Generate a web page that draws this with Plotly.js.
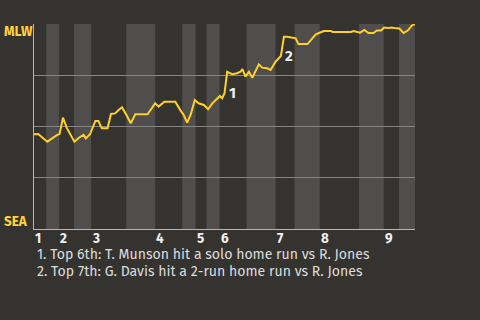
<!DOCTYPE html>
<html>
<head>
<meta charset="utf-8">
<script src="https://cdn.plot.ly/plotly-3.0.1.min.js"></script>
<style>
  html, body { margin: 0; padding: 0; background: #353330; }
  #chart { width: 480px; height: 320px; }
</style>
</head>
<body>
<div id="chart"></div>
<script>
// Game progress (0-100) and Milwaukee win probability (%) after each event
const progress = [0, 1.1, 3.5, 4.7, 6.1, 6.7, 7.6, 8.6, 10.6, 11.8, 13.0, 13.6, 14.7, 16.1, 16.9, 17.8,
  19.3, 20.2, 21.3, 22.2, 23.1, 24.4, 25.4, 26.6, 29.8, 31.8, 32.7, 34.2, 37.1, 38.4, 39.3, 40.2,
  41.1, 42.2, 43.2, 44.6, 45.7, 46.8, 48.1, 48.8, 49.4, 50.0, 50.7, 51.1, 52.0, 53.3, 54.2, 54.7,
  55.5, 56.4, 57.3, 59.0, 59.9, 61.2, 62.1, 63.4, 64.3, 64.8, 65.6, 66.5, 68.7, 69.4, 71.8, 73.1,
  73.9, 74.8, 76.1, 77.9, 78.4, 83.2, 83.9, 84.9, 85.6, 86.7, 87.8, 89.1, 90.0, 91.1, 91.9, 93.0,
  93.7, 94.6, 95.9, 97.0, 98.1, 99.2, 100];
const winProb = [46.2, 46.3, 42.6, 44.2, 45.9, 46.3, 54.3, 49.3, 42.6, 44.5, 45.9, 44.2, 46.2, 52.7, 52.7, 49.1,
  49.1, 56.1, 56.4, 58.0, 59.4, 55.1, 51.6, 56.0, 56.0, 61.3, 59.7, 62.1, 62.1, 58.0, 55.6, 51.9,
  55.6, 62.9, 61.3, 60.5, 58.4, 61.3, 63.8, 64.9, 63.8, 66.2, 76.7, 76.2, 75.5, 76.0, 76.7, 78.0,
  74.3, 76.7, 73.8, 80.3, 78.7, 78.4, 77.6, 81.6, 83.3, 84.4, 93.8, 93.8, 93.0, 90.2, 90.2, 93.2,
  94.8, 95.6, 96.6, 96.6, 96.1, 96.1, 96.6, 96.1, 95.8, 97.1, 95.6, 95.6, 96.8, 96.8, 98.3, 98.0,
  98.3, 98.0, 97.8, 95.6, 96.8, 99.3, 100];

// Where each inning starts, and where its bottom half starts
const inningLabels = ['1', '2', '3', '4', '5', '6', '7', '8', '9'];
const inningStart = [0, 6.6, 15.0, 31.8, 42.4, 48.7, 63.4, 75.0, 91.8];
const bottomStart = [3.2, 10.5, 24.2, 38.9, 45.3, 55.8, 68.4, 85.3, 95.8];
const gameEnd = 100;

// Key plays, marked at the event just before the swing
const keyPlayIndex = [41, 57];
const keyPlayText = [
  '1. Top 6th: T. Munson hit a solo home run vs R. Jones',
  '2. Top 7th: G. Davis hit a 2-run home run vs R. Jones'
];
const teamTop = 'MLW';
const teamBottom = 'SEA';

const font = "'Fira Sans', 'Open Sans', 'Noto Sans', sans-serif";

// Shaded bottom halves of each inning
const shapes = bottomStart.map((x0, i) => ({
  type: 'rect', xref: 'x', yref: 'paper', layer: 'below',
  x0: x0, x1: i + 1 < inningStart.length ? inningStart[i + 1] : gameEnd,
  y0: 0, y1: 1, line: { width: 0 }, fillcolor: '#4f4e4c'
}));

const annotations = [];
inningLabels.forEach((lab, i) => {
  annotations.push({
    text: lab, xref: 'x', yref: 'paper', x: inningStart[i], y: -0.047,
    xanchor: 'left', yanchor: 'middle', xshift: -1, showarrow: false,
    font: { family: font, size: 13.5, color: '#f0f0f0', weight: 'bold' }
  });
});
keyPlayIndex.forEach((idx, i) => {
  annotations.push({
    text: String(i + 1), xref: 'x', yref: 'y', x: progress[idx], y: winProb[idx],
    xanchor: 'left', yanchor: 'middle', xshift: 2, showarrow: false,
    font: { family: font, size: 15, color: '#f0f0f0', weight: 'bold' }
  });
  annotations.push({
    text: keyPlayText[i], xref: 'paper', yref: 'paper', x: 0, y: -0.122 - 0.083 * i,
    xanchor: 'left', yanchor: 'middle', xshift: 1, showarrow: false,
    font: { family: font, size: 14.1, color: '#dcdcdc' }
  });
});
annotations.push({
  text: teamTop, xref: 'paper', yref: 'paper', x: 0, y: 0.965, xanchor: 'left',
  yanchor: 'middle', xshift: -32, showarrow: false,
  font: { family: font, size: 13.5, color: '#ffd23a', weight: 'bold' }
});
annotations.push({
  text: teamBottom, xref: 'paper', yref: 'paper', x: 0, y: 0.035, xanchor: 'left',
  yanchor: 'middle', xshift: -32, showarrow: false,
  font: { family: font, size: 13.5, color: '#ffd23a', weight: 'bold' }
});

const trace = {
  x: progress, y: winProb, type: 'scatter', mode: 'lines',
  line: { color: '#ffd028', width: 2, shape: 'linear' },
  hoverinfo: 'skip', cliponaxis: false
};

const layout = {
  width: 480, height: 320,
  margin: { l: 34, r: 65, t: 24, b: 91 },
  paper_bgcolor: '#353330', plot_bgcolor: '#353330',
  showlegend: false,
  xaxis: {
    range: [0, gameEnd], showgrid: false, zeroline: false, showticklabels: false,
    ticks: '', showline: true, linecolor: '#b8b8b8', linewidth: 1, fixedrange: true
  },
  yaxis: {
    range: [0, 100], dtick: 25, showgrid: true, gridcolor: '#858585', gridwidth: 1,
    zeroline: false, showticklabels: false, ticks: '', showline: true,
    linecolor: '#b8b8b8', linewidth: 1, fixedrange: true
  },
  shapes: shapes,
  annotations: annotations
};

Plotly.newPlot('chart', [trace], layout, { staticPlot: true });
</script>
</body>
</html>
